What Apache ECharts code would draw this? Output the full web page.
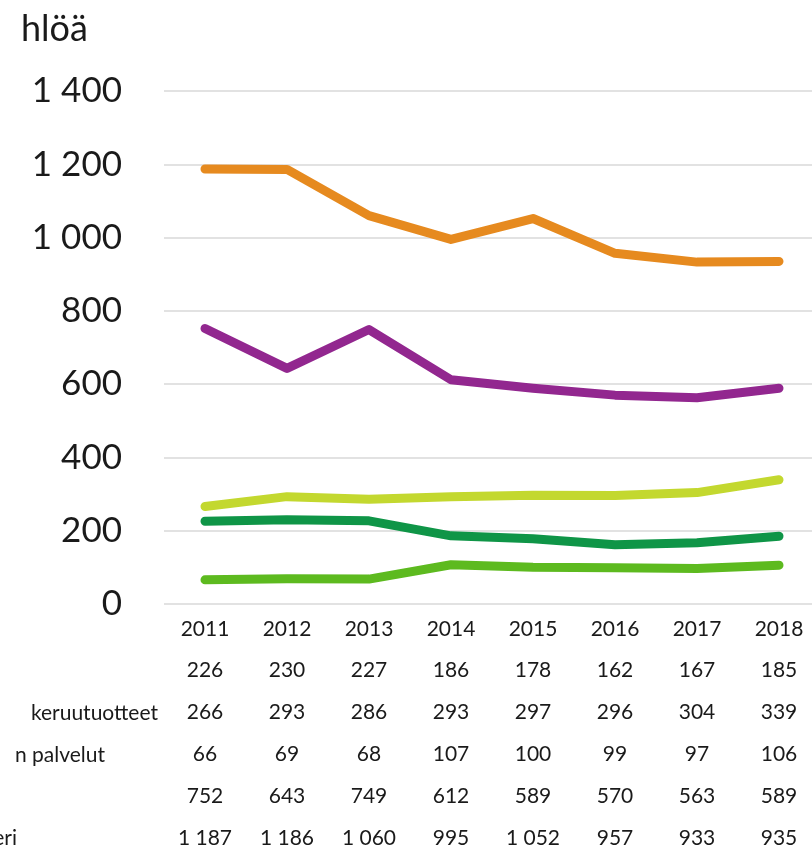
<!DOCTYPE html>
<html>
<head>
<meta charset="utf-8">
<script src="https://cdn.jsdelivr.net/npm/echarts@6/dist/echarts.min.js"></script>
<style>
  html, body { margin: 0; padding: 0; background: #fff; }
  #chart { width: 812px; height: 849px; }
</style>
</head>
<body>
<div id="chart"></div>
<script>
// data
const years = ['2011', '2012', '2013', '2014', '2015', '2016', '2017', '2018'];
const darkGreen = [226, 230, 227, 186, 178, 162, 167, 185];
const yellowGreen = [266, 293, 286, 293, 297, 296, 304, 339];
const midGreen = [66, 69, 68, 107, 100, 99, 97, 106];
const purple = [752, 643, 749, 612, 589, 570, 563, 589];
const orange = [1187, 1186, 1060, 995, 1052, 957, 933, 935];
const rowNames = ['', ' keruutuotteet', 'n palvelut', '', 'eri'];

const FONT = 'Lato';

function fmt(n) {
  return String(n).replace(/\B(?=(\d{3})+(?!\d))/g, ' ');
}

const tableRows = [darkGreen, yellowGreen, midGreen, purple, orange];

const chart = echarts.init(document.getElementById('chart'));

function line(name, data, color) {
  return {
    name: name,
    type: 'line',
    data: data,
    symbol: 'none',
    silent: true,
    lineStyle: { color: color, width: 9, cap: 'round', join: 'round' },
  };
}

const option = {
  animation: false,
  title: {
    text: 'hlöä',
    left: 16,
    top: 6,
    textStyle: { fontFamily: FONT, fontSize: 36, fontWeight: 'normal', color: '#1a1a1a' },
  },
  grid: { left: 164, right: -8, top: 91, bottom: 245, outerBoundsMode: 'none' },
  xAxis: {
    type: 'category',
    data: years,
    axisLine: { show: false },
    axisTick: { show: false },
    axisLabel: {
      margin: 4,
      fontFamily: FONT,
      fontSize: 21,
      lineHeight: 41.8,
      color: '#1a1a1a',
      formatter: function (value, idx) {
        return [value].concat(tableRows.map(r => fmt(r[idx]))).join('\n');
      },
    },
  },
  yAxis: {
    type: 'value',
    min: 0,
    max: 1400,
    interval: 200,
    axisLine: { show: false },
    axisTick: { show: false },
    axisLabel: {
      margin: 42,
      fontFamily: FONT,
      fontSize: 35,
      color: '#1a1a1a',
      formatter: v => fmt(v),
    },
    splitLine: { lineStyle: { color: '#d9d9d9', width: 1.5 } },
  },
  graphic: rowNames.map((t, i) => ({
    type: 'text',
    right: [0, 654, 707, 0, 795][i],
    top: 630 + 41.8 * (i + 1) - 11,
    style: { text: t, fontFamily: FONT, fontSize: 21, fill: '#1a1a1a', letterSpacing: 2 },
  })),
  series: [
    line('midGreen', midGreen, '#5dba1f'),
    line('darkGreen', darkGreen, '#0f9547'),
    line('yellowGreen', yellowGreen, '#c3d82f'),
    line('purple', purple, '#92278f'),
    line('orange', orange, '#e68a1f'),
  ],
};

chart.setOption(option);
</script>
</body>
</html>
